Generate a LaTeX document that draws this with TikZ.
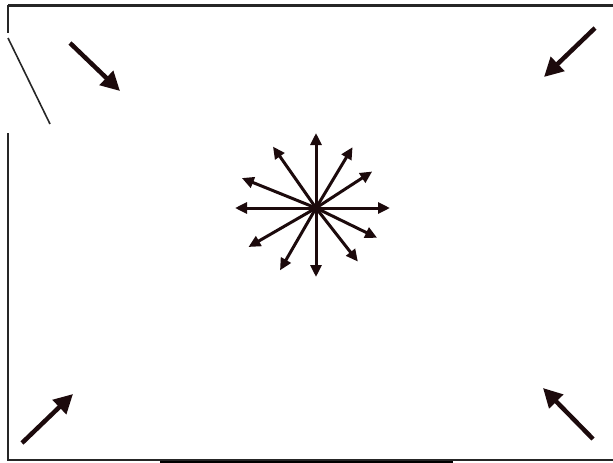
\documentclass[tikz,border=0pt]{standalone}
\usepackage{tikz}
\usetikzlibrary{arrows.meta}
\definecolor{ink}{RGB}{28,10,12}

\begin{document}
\begin{tikzpicture}[x=1pt,y=-1pt,
  wall/.style={line width=2pt, black!85},
  flow/.style={ink, line width=4.5pt, -{Triangle[length=19pt,width=19pt]}},
  ray/.style={ink, line width=3pt, -{Triangle[length=12pt,width=11pt]}}]
\useasboundingbox (0,0) rectangle (613,463);
% Walls
\draw[wall, line width=3pt] (8,5) -- (613,5);
\draw[wall] (8,5) -- (8,33);
\draw[wall] (8,133) -- (8,461);
\draw[wall, line width=1.6pt] (8,38) -- (50,124);
\draw[wall, line width=1.4pt] (8,460) -- (613,460);
\draw[black, line width=3pt] (160,462) -- (453,462);
% Corner arrows, pointing inwards
\draw[flow] (70,43) -- (120,91);
\draw[flow] (595,28) -- (544,77);
\draw[flow] (22,443) -- (73,394);
\draw[flow] (593,439) -- (543,388);
% Central source
\coordinate (c) at (316,208);
\foreach \ang/\len in {90/75, 59/71, 33/67, 0/74, -26/68, -52/68,
                       -90/69, -120/72, -150/78, 180/81, 158/80, 125/75} {
  \draw[ray] (c) -- ++({\len*cos(\ang)},{-\len*sin(\ang)});
}
\end{tikzpicture}
\end{document}
